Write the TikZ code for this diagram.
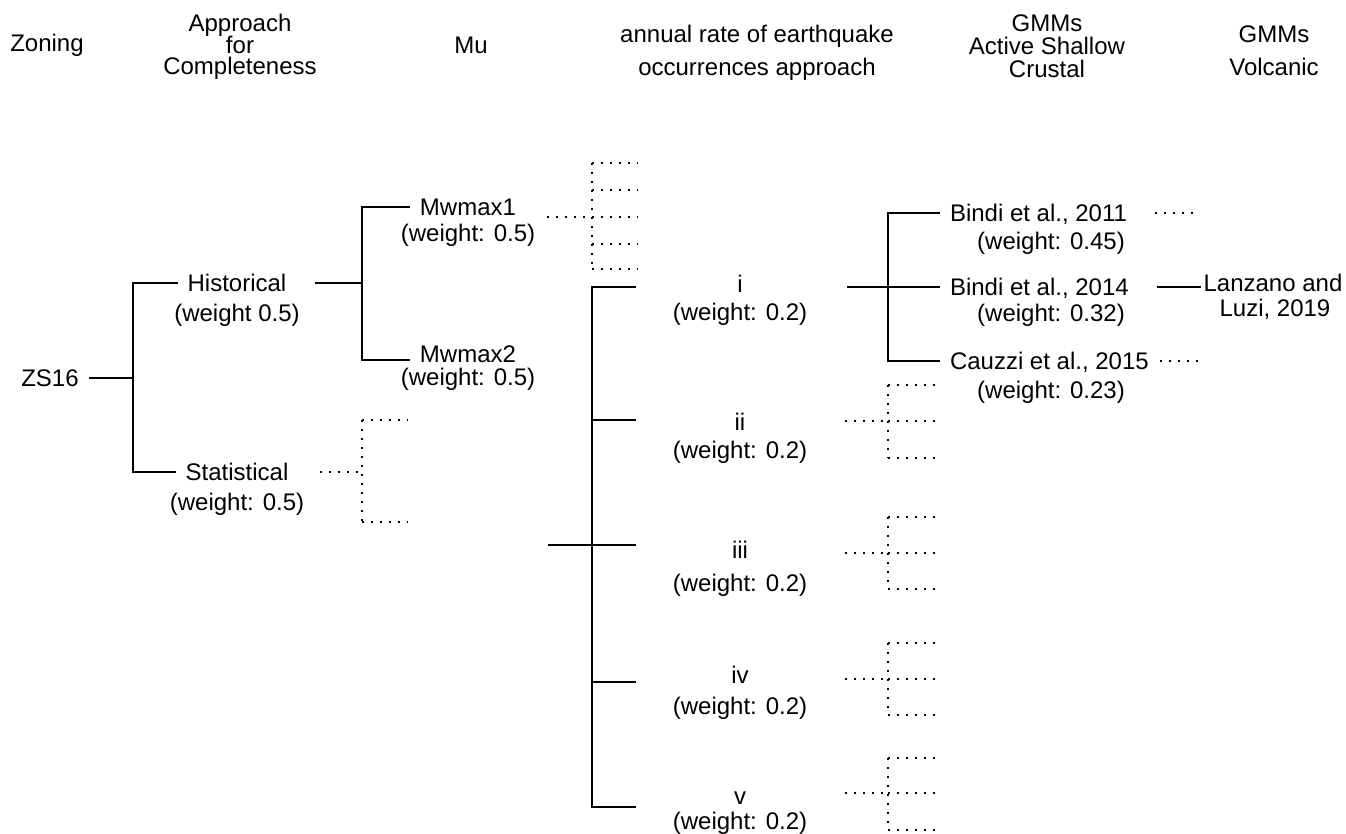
\documentclass[tikz,border=0pt]{standalone}
\usepackage{fontspec}
\setmainfont{Liberation Sans}
\usetikzlibrary{calc}
\tikzset{
  plain/.style={font=\fontsize{12}{14.5}\selectfont, inner sep=0pt},
  head/.style={plain, align=center, anchor=base},
  leaf/.style={plain, text height=8.6pt, text depth=0pt, outer xsep=5pt},
  wgt/.style={plain, anchor=base},
  branch/.style={draw=black, line width=1pt},
  dots/.style={draw=black, line width=1pt, dash pattern=on 1pt off 3.5pt},
}
\newcommand{\lsp}[1]{\fontsize{12}{#1}\selectfont\lineskiplimit=-20pt}

\begin{document}
\begin{tikzpicture}[x=0.5pt,y=-0.5pt]
  \useasboundingbox (0,0) rectangle (1346,834);
  % column heads (base = last line)
  \node[head] (h-zone) at (47,52) {Zoning};
  \node[head, font=\lsp{10.75pt}] (h-comp) at (240,75) {Approach\\for\\Completeness};
  \node[head] (h-mu) at (471,54) {Mu};
  \node[head, font=\lsp{16.5pt}] (h-rate) at (757,76) {annual rate of earthquake\\occurrences approach};
  \node[head, font=\lsp{11.5pt}] (h-asc) at (1047,78) {GMMs\\Active Shallow\\Crustal};
  \node[head, font=\lsp{16.5pt}] (h-volc) at (1274,76) {GMMs\\Volcanic};

  % zoning
  \node[leaf] (zs) at (50,378) {ZS16};
  \coordinate (j1) at (133,378);
  \draw[branch] (zs) -- (j1);

  % completeness
  \node[leaf] (hist) at (237,283) {Historical};
  \node[wgt] (hist-w) at (237,322) {(weight 0.5)};
  \node[leaf] (stat) at (237,472) {Statistical};
  \node[wgt] (stat-w) at (237,511) {(weight: 0.5)};
  \draw[branch] (j1) |- (hist);
  \draw[branch] (j1) |- (stat);

  % Mu
  \coordinate (j2) at (362,283);
  \draw[branch] ($(hist-w.east |- hist)+(15,0)$) -- (j2);
  \node[leaf] (mw1) at (468,207) {Mwmax1};
  \node[wgt] (mw1-w) at (468,242) {(weight: 0.5)};
  \node[leaf] (mw2) at (468,354) {Mwmax2};
  \node[wgt] (mw2-w) at (468,386) {(weight: 0.5)};
  \draw[branch] (j2) |- (mw1);
  \draw[branch] (j2) |- ($(mw2.west)+(0,6)$);

  % dotted fans
  \coordinate (fs) at (362,472);
  \draw[dots] ($(stat-w.east |- stat)+(15,0)$) -- (fs);
  \draw[dots] (362,420) -- (362,522);
  \foreach \y in {420,522} \draw[dots] (362,\y) -- ++(46,0);

  \coordinate (fm) at (592,217);
  \draw[dots] (547,217) -- (fm);
  \draw[dots] (592,163) -- (592,269);
  \foreach \y in {163,190,217,244,269} \draw[dots] (592,\y) -- ++(46,0);

  \foreach \t/\m/\b in {385/421/458, 517/553/589, 643/679/715, 758/793/830} {
    \draw[dots] (845,\m) -- (888,\m);
    \draw[dots] (888,\t) -- (888,\b);
    \foreach \y in {\t,\m,\b} \draw[dots] (888,\y) -- ++(47,0);
  }

  % annual rate
  \coordinate (r0) at (548,545);
  \coordinate (jr) at (592,545);
  \draw[branch] (r0) -- (jr);
  \foreach \n/\y/\w/\d in {i/284/321/3, ii/422/459/-2, iii/550/591/-5, iv/675/714/7, v/796/829/11} {
    \node[leaf] (\n) at (740,\y) {\n};
    \node[wgt] (\n-w) at (740,\w) {(weight: 0.2)};
    \draw[branch] (jr) |- ($(\n-w.west |- \n)+(-36,\d)$);
  }

  % GMMs active shallow crustal
  \coordinate (ji) at (888,287);
  \draw[branch] ($(i-w.east |- i)+(39,3)$) -- (ji);
  \node[leaf, anchor=west] (b11) at (940,213) {Bindi et al., 2011};
  \node[wgt] (b11-w) at (1051,250) {(weight: 0.45)};
  \node[leaf, anchor=west] (b14) at (940,287) {Bindi et al., 2014};
  \node[wgt] (b14-w) at (1051,322) {(weight: 0.32)};
  \node[leaf, anchor=west] (cz) at (940,361) {Cauzzi et al., 2015};
  \node[wgt] (cz-w) at (1051,399) {(weight: 0.23)};
  \foreach \n in {b11,b14,cz} \draw[branch] (ji) |- (\n);

  % GMMs volcanic
  \node[leaf, outer xsep=1.5pt] (lz) at (1273,283) {Lanzano and};
  \node[wgt] (lz-2) at (1275,317) {Luzi, 2019};
  \draw[branch] ([xshift=9pt]b14.east) -- (lz.west |- b14);
  \draw[dots] ([xshift=9pt]b11.east) -- ++(43,0);
  \draw[dots] ([xshift=0.5pt]cz.east) -- ++(40,0);
\end{tikzpicture}
\end{document}
